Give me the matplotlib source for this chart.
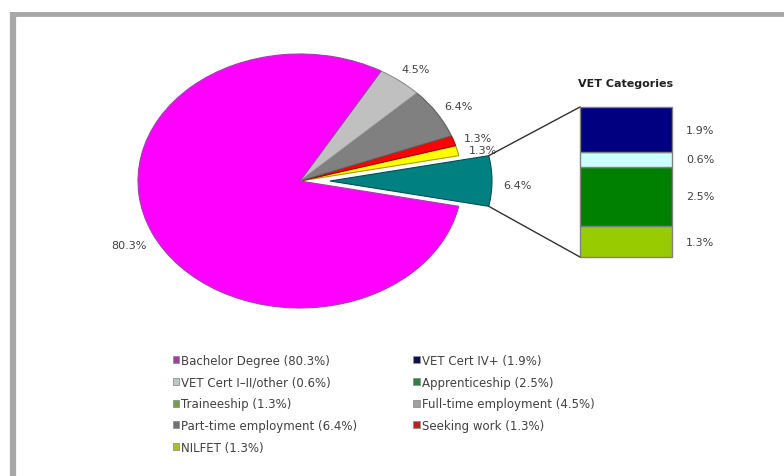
import numpy as np
import matplotlib
matplotlib.use('Agg')
import matplotlib.pyplot as plt
from matplotlib.patches import Patch, ConnectionPatch
from matplotlib.lines import Line2D

# --- dados ---
pie_labels = ['VET', 'NILFET', 'Seeking work', 'Part-time employment',
              'Full-time employment', 'Bachelor Degree']
pie_values = [6.4, 1.3, 1.3, 6.4, 4.5, 80.3]
pie_colors = ['#008080', '#FFFF00', '#FF0000', '#808080', '#C0C0C0', '#FF00FF']
pie_edges = ['#005050', '#a0a000', '#a00000', '#606060', '#909090', '#a040b0']

vet_labels = ['Traineeship', 'Apprenticeship', 'VET Cert I\u2013II/other', 'VET Cert IV+']
vet_values = [1.3, 2.5, 0.6, 1.9]
vet_colors = ['#99CC00', '#008000', '#CCFFFF', '#000080']

legend_labels = ['Bachelor Degree', 'VET Cert IV+', 'VET Cert I\u2013II/other',
                 'Apprenticeship', 'Traineeship', 'Full-time employment',
                 'Part-time employment', 'Seeking work', 'NILFET']
legend_values = [80.3, 1.9, 0.6, 2.5, 1.3, 4.5, 6.4, 1.3, 1.3]
legend_colors = ['#a040a0', '#101050', '#b8c8c8', '#308040', '#70a040',
                 '#a0a0a0', '#707070', '#c02020', '#b0c020']

TXT = '#404040'
plt.rcParams['font.family'] = ['DejaVu Sans']

W, H = 784, 477
fig = plt.figure(figsize=(W / 100, H / 100), dpi=100)

# moldura cinza (canto superior esquerdo)
fig.add_artist(Line2D([13.5 / W, 13.5 / W], [0, 1 - 13 / H], color='#a8a8a8',
                      lw=4.5, solid_capstyle='butt', transform=fig.transFigure))
fig.add_artist(Line2D([11 / W, 1], [1 - 15 / H, 1 - 15 / H], color='#a8a8a8',
                      lw=3.5, solid_capstyle='butt', transform=fig.transFigure))

# --- pizza (elipse) ---
cx, cy, rx, ry = 300, 182, 162, 127
ax_pie = fig.add_axes([0, 0, 1, 1])
start = -pie_values[0] / sum(pie_values) * 360 / 2
explode = [0.185, 0, 0, 0, 0, 0]
wedges, _ = ax_pie.pie(pie_values, colors=pie_colors, startangle=start,
                       explode=explode, counterclock=True,
                       wedgeprops=dict(linewidth=0.8))
for w, ec in zip(wedges, pie_edges):
    w.set_edgecolor(ec)
ax_pie.set_aspect('auto')
ax_pie.set_xlim(-cx / rx, (W - cx) / rx)
ax_pie.set_ylim(-(H - cy) / ry, cy / ry)
ax_pie.axis('off')

for w, v in zip(wedges, pie_values):
    mid = np.deg2rad((w.theta1 + w.theta2) / 2)
    x0, y0 = w.center
    ax_pie.text(x0 + 1.16 * np.cos(mid), y0 + 1.16 * np.sin(mid) - 0.03, f'{v}%',
                ha='center', va='center', fontsize=8, color=TXT)

# --- barra VET ---
ax_bar = fig.add_axes([580 / W, (H - 258) / H, 92 / W, 150 / H])
bottom = 0
for v, c in zip(vet_values, vet_colors):
    ax_bar.bar(0, v, width=1, bottom=bottom, align='edge', color=c,
               edgecolor='#808080', linewidth=1, clip_on=False)
    ax_bar.text(1.15, bottom + v / 2, f'{v}%', transform=ax_bar.get_yaxis_transform(),
                ha='left', va='center', fontsize=8, color=TXT)
    bottom += v
ax_bar.set_xlim(0, 1)
ax_bar.set_ylim(0, bottom)
ax_bar.axis('off')
ax_bar.set_title('VET Categories', fontsize=8, fontweight='bold', color='#202020', pad=15)

# linhas de ligação
vw = wedges[0]
for th, yb in [(vw.theta2, 1), (vw.theta1, 0)]:
    t = np.deg2rad(th)
    xa = vw.center[0] + vw.r * np.cos(t)
    ya = vw.center[1] + vw.r * np.sin(t)
    con = ConnectionPatch(xyA=(xa, ya), coordsA=ax_pie.transData,
                          xyB=(0, yb), coordsB=ax_bar.transAxes,
                          color='#303030', lw=1)
    fig.add_artist(con)

# --- legenda ---
handles = [Patch(facecolor=c, edgecolor='#909090', linewidth=0.6) for c in legend_colors]
labels = [f'{l} ({v}%)' for l, v in zip(legend_labels, legend_values)]
order = list(range(0, len(labels), 2)) + list(range(1, len(labels), 2))
fig.legend([handles[i] for i in order], [labels[i] for i in order],
           loc='upper left', bbox_to_anchor=(167 / W, 1 - 349 / H), ncol=2,
           frameon=False, fontsize=8.5, handlelength=0.55, handleheight=0.55,
           handletextpad=0.15, columnspacing=4.75, labelspacing=0.74,
           borderpad=0, labelcolor=TXT)

fig.savefig('out.png', dpi=100)
